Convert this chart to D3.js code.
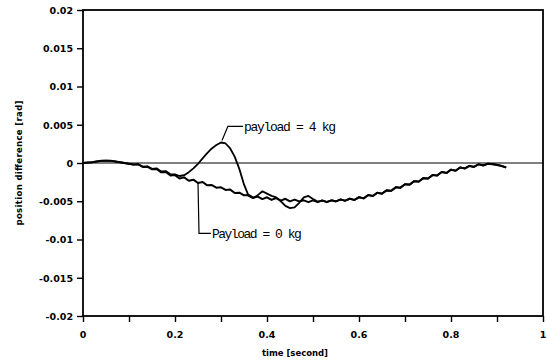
<!DOCTYPE html>
<html>
<head>
<meta charset="utf-8">
<script src="https://cdn.jsdelivr.net/npm/d3@7"></script>
<style>
  html, body { margin: 0; padding: 0; background: #fff; }
  svg { display: block; }
  .tick-label { font-family: "DejaVu Sans", sans-serif; font-weight: bold; font-size: 9.5px; fill: #000; }
  .axis-title { font-family: "DejaVu Sans", sans-serif; font-weight: bold; font-size: 8.5px; fill: #000; }
  .note { font-family: "Liberation Mono", monospace; font-size: 13px; fill: #000; }
</style>
</head>
<body>
<svg id="chart" width="547" height="360"></svg>
<script>
// time axis samples, seconds
const timeSteps = [
  0.00, 0.01, 0.02, 0.03, 0.04, 0.05, 0.06, 0.07, 0.08, 0.09,
  0.10, 0.11, 0.12, 0.13, 0.14, 0.15, 0.16, 0.17, 0.18, 0.19,
  0.20, 0.21, 0.22, 0.23, 0.24, 0.25, 0.26, 0.27, 0.28, 0.29,
  0.30, 0.31, 0.32, 0.33, 0.34, 0.35, 0.36, 0.37, 0.38, 0.39,
  0.40, 0.41, 0.42, 0.43, 0.44, 0.45, 0.46, 0.47, 0.48, 0.49,
  0.50, 0.51, 0.52, 0.53, 0.54, 0.55, 0.56, 0.57, 0.58, 0.59,
  0.60, 0.61, 0.62, 0.63, 0.64, 0.65, 0.66, 0.67, 0.68, 0.69,
  0.70, 0.71, 0.72, 0.73, 0.74, 0.75, 0.76, 0.77, 0.78, 0.79,
  0.80, 0.81, 0.82, 0.83, 0.84, 0.85, 0.86, 0.87, 0.88, 0.89,
  0.90, 0.91, 0.92
];

// position difference [rad], payload = 0 kg
const payload0 = [
  0.00000, 0.00005, 0.00010, 0.00020, 0.00028, 0.00030, 0.00028, 0.00020, 0.00010, 0.00000,
  -0.00010, -0.00020, -0.00018, -0.00052, -0.00048, -0.00082, -0.00078, -0.00122, -0.00118, -0.00162,
  -0.00158, -0.00202, -0.00188, -0.00232, -0.00218, -0.00262, -0.00248, -0.00292, -0.00288, -0.00322,
  -0.00318, -0.00352, -0.00348, -0.00392, -0.00388, -0.00422, -0.00418, -0.00452, -0.00438, -0.00472,
  -0.00448, -0.00482, -0.00458, -0.00492, -0.00468, -0.00502, -0.00478, -0.00502, -0.00488, -0.00512,
  -0.00488, -0.00512, -0.00488, -0.00512, -0.00488, -0.00502, -0.00478, -0.00492, -0.00468, -0.00482,
  -0.00448, -0.00462, -0.00418, -0.00432, -0.00388, -0.00402, -0.00358, -0.00362, -0.00318, -0.00322,
  -0.00278, -0.00282, -0.00238, -0.00242, -0.00198, -0.00202, -0.00158, -0.00162, -0.00118, -0.00132,
  -0.00088, -0.00102, -0.00058, -0.00072, -0.00038, -0.00052, -0.00018, -0.00032, -0.00010, -0.00015,
  -0.00025, -0.00040, -0.00060
];

// position difference [rad], payload = 4 kg
const payload4 = [
  0.00000, 0.00005, 0.00010, 0.00020, 0.00028, 0.00030, 0.00028, 0.00020, 0.00010, 0.00000,
  -0.00010, -0.00020, -0.00016, -0.00048, -0.00044, -0.00076, -0.00070, -0.00110, -0.00106, -0.00146,
  -0.00150, -0.00170, -0.00160, -0.00120, -0.00070, -0.00010, 0.00060, 0.00130, 0.00190, 0.00235,
  0.00268, 0.00255, 0.00190, 0.00080, -0.00080, -0.00280, -0.00430, -0.00460, -0.00420, -0.00370,
  -0.00400, -0.00430, -0.00450, -0.00500, -0.00560, -0.00590, -0.00580, -0.00520, -0.00450, -0.00430,
  -0.00470, -0.00505, -0.00492, -0.00508, -0.00490, -0.00500, -0.00476, -0.00494, -0.00466, -0.00484,
  -0.00446, -0.00464, -0.00420, -0.00430, -0.00390, -0.00400, -0.00356, -0.00364, -0.00316, -0.00324,
  -0.00276, -0.00284, -0.00236, -0.00244, -0.00196, -0.00204, -0.00156, -0.00164, -0.00116, -0.00130,
  -0.00086, -0.00100, -0.00056, -0.00070, -0.00036, -0.00050, -0.00016, -0.00030, -0.00008, -0.00013,
  -0.00022, -0.00038, -0.00058
];

const xTicks = [0, 0.2, 0.4, 0.6, 0.8, 1];
const xMinorTicks = [0, 0.1, 0.2, 0.3, 0.4, 0.5, 0.6, 0.7, 0.8, 0.9, 1];
const yTicks = [0.02, 0.015, 0.01, 0.005, 0, -0.005, -0.01, -0.015, -0.02];
const yTickLabels = ['0.02', '0.015', '0.01', '0.005', '0', '-0.005', '-0.01', '-0.015', '-0.02'];

const svg = d3.select('#chart');
const margin = { left: 83, right: 4, top: 10, bottom: 44 };
const width = 547, height = 360;

const x = d3.scaleLinear().domain([0, 1]).range([margin.left, width - margin.right]);
const y = d3.scaleLinear().domain([-0.02, 0.02]).range([height - margin.bottom, margin.top]);

// frame
svg.append('rect')
  .attr('x', x(0)).attr('y', y(0.02))
  .attr('width', x(1) - x(0)).attr('height', y(-0.02) - y(0.02))
  .attr('fill', 'none').attr('stroke', '#000').attr('stroke-width', 1.8);

// zero line
svg.append('line')
  .attr('x1', x(0)).attr('x2', x(1))
  .attr('y1', y(0)).attr('y2', y(0))
  .attr('stroke', '#000').attr('stroke-width', 1);

// y axis
const yAxis = svg.append('g')
  .attr('transform', `translate(${x(0)},0)`)
  .call(d3.axisLeft(y).tickValues(yTicks).tickSize(6).tickFormat((d, i) => yTickLabels[i]));
yAxis.select('.domain').remove();
yAxis.selectAll('.tick line').attr('stroke-width', 1.4);
yAxis.selectAll('.tick text').attr('class', 'tick-label').attr('x', -10).attr('dy', '0.35em')
  .attr('font-size', null).attr('font-family', null);

// x axis (minor ticks then labels)
const xAxis = svg.append('g')
  .attr('transform', `translate(0,${y(-0.02)})`)
  .call(d3.axisBottom(x).tickValues(xMinorTicks).tickSize(6).tickFormat(''));
xAxis.select('.domain').remove();
xAxis.selectAll('.tick line').attr('stroke-width', 1.4);

svg.append('g').selectAll('text')
  .data(xTicks)
  .join('text')
  .attr('class', 'tick-label')
  .attr('x', d => x(d))
  .attr('y', 335)
  .attr('dy', '0.35em')
  .attr('text-anchor', 'middle')
  .text(d => d3.format('')(d));

// axis titles
svg.append('text')
  .attr('class', 'axis-title')
  .attr('x', 295).attr('y', 353).attr('dy', '0.35em')
  .attr('text-anchor', 'middle')
  .attr('textLength', 66)
  .text('time [second]');

svg.append('text')
  .attr('class', 'axis-title')
  .attr('transform', 'translate(19,163) rotate(-90)')
  .attr('text-anchor', 'middle')
  .attr('dy', '0.35em')
  .attr('textLength', 125)
  .text('position difference [rad]');

// curves
const line = d3.line()
  .x((d, i) => x(timeSteps[i]))
  .y(d => y(d));

svg.append('path')
  .datum(payload0)
  .attr('d', line)
  .attr('fill', 'none').attr('stroke', '#000').attr('stroke-width', 2)
  .attr('stroke-linejoin', 'round');

svg.append('path')
  .datum(payload4)
  .attr('d', line)
  .attr('fill', 'none').attr('stroke', '#000').attr('stroke-width', 1.8)
  .attr('stroke-linejoin', 'round');

// annotations
const peakIdx = 30;
svg.append('path')
  .attr('d', d3.line()([
    [x(timeSteps[peakIdx]) + 1, y(payload4[peakIdx]) - 2],
    [x(0.315), y(0.0048)],
    [x(0.348), y(0.0048)]
  ]))
  .attr('fill', 'none').attr('stroke', '#000').attr('stroke-width', 1.2);

svg.append('text')
  .attr('class', 'note')
  .attr('x', x(0.348) + 1).attr('y', y(0.0048)).attr('dy', '0.35em')
  .attr('textLength', 92)
  .text('payload = 4 kg');

const footIdx = 25;
svg.append('path')
  .attr('d', d3.line()([
    [x(timeSteps[footIdx]), y(payload0[footIdx])],
    [x(timeSteps[footIdx]) + 1, y(-0.0092)],
    [x(0.278), y(-0.0092)]
  ]))
  .attr('fill', 'none').attr('stroke', '#000').attr('stroke-width', 1.2);

svg.append('text')
  .attr('class', 'note')
  .attr('x', x(0.278) + 1).attr('y', y(-0.0092)).attr('dy', '0.35em')
  .attr('textLength', 90)
  .text('Payload = 0 kg');
</script>
</body>
</html>
